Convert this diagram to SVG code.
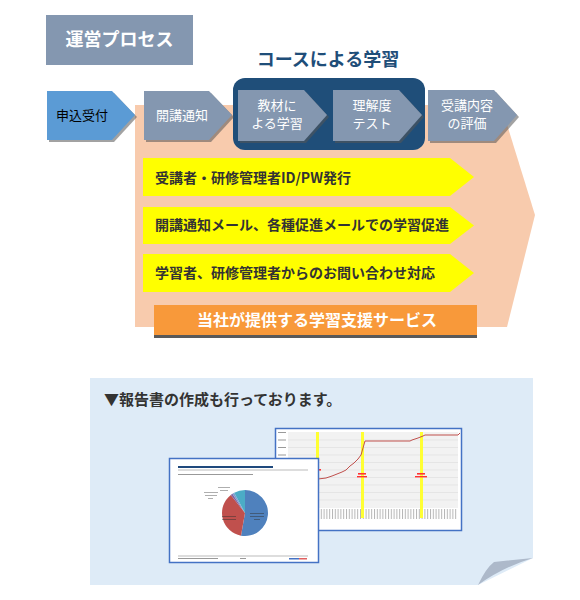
<svg xmlns="http://www.w3.org/2000/svg" width="580" height="600" viewBox="0 0 580 600">
<style>
text{font-family:"Noto Sans CJK JP","Noto Sans",sans-serif}
.chev{fill:#8497B0}
.shadow{fill:#555;opacity:.55}
.ct{font-size:13px;fill:#fff;text-anchor:middle}
.yl{fill:#FFFF00}
.yt{font-size:14px;font-weight:bold;fill:#333}
.tiny{fill:#9a9a9a}
.grid{stroke:#dcdcdc;stroke-width:.6}
.ybar{fill:#FFFF33}
</style>
<defs>
<pattern id="xl" x="290" y="509" width="2.8" height="12" patternUnits="userSpaceOnUse">
<rect x="0" y="0" width="1" height="10" fill="#b5b5b5"/>
</pattern>
</defs>
<rect width="580" height="600" fill="#fff"/>

<g id="title">
<rect x="46" y="15" width="147" height="50" fill="#8497B0"/>
<text x="119.5" y="46" font-size="18" font-weight="bold" fill="#fff" text-anchor="middle">運営プロセス</text>
</g>

<g id="course-label">
<text x="328" y="66" font-size="18" font-weight="bold" fill="#1F4E79" text-anchor="middle">コースによる学習</text>
</g>

<g id="support-area">
<polygon points="135,105 501,105 535,215 507,327 135,327" fill="#F8CBAD"/>
</g>

<g id="course-box">
<rect x="233" y="78" width="192" height="72" rx="12" fill="#1F4E79"/>
</g>

<g id="step1">
<path class="shadow" d="M49,93 H114 L137,117 L114,142 H49 Z"/>
<path d="M47,91 H112 L135,115 L112,140 H47 Z" fill="#5B9BD5"/>
<text class="ct" x="82" y="120" style="fill:#000">申込受付</text>
</g>
<g id="step2">
<path class="shadow" d="M146,93 H211 L234,117 L211,142 H146 Z"/>
<path class="chev" d="M144,91 H209 L232,115 L209,140 H144 Z"/>
<text class="ct" x="182" y="120">開講通知</text>
</g>
<g id="step3">
<path class="shadow" d="M240,92 H306 L329,117 L306,143 H240 Z"/>
<path class="chev" d="M238,90 H304 L327,115 L304,141 H238 Z"/>
<text class="ct" x="277" y="110">教材に</text>
<text class="ct" x="277" y="128">よる学習</text>
</g>
<g id="step4">
<path class="shadow" d="M335,92 H401 L424,117 L401,143 H335 Z"/>
<path class="chev" d="M333,90 H399 L422,115 L399,141 H333 Z"/>
<text class="ct" x="372" y="110">理解度</text>
<text class="ct" x="372" y="128">テスト</text>
</g>
<g id="step5">
<path class="shadow" d="M430,92 H496 L519,117 L496,143 H430 Z"/>
<path class="chev" d="M428,90 H494 L517,115 L494,141 H428 Z"/>
<text class="ct" x="467" y="110">受講内容</text>
<text class="ct" x="467" y="128">の評価</text>
</g>

<g id="service1">
<path class="yl" d="M143,158 H450 L474,177 L450,196 H143 Z"/>
<text class="yt" x="155" y="183">受講者・研修管理者ID/PW発行</text>
</g>
<g id="service2">
<path class="yl" d="M143,207 H450 L474,225.5 L450,244 H143 Z"/>
<text class="yt" x="155" y="230">開講通知メール、各種促進メールでの学習促進</text>
</g>
<g id="service3">
<path class="yl" d="M143,254 H450 L474,273 L450,292 H143 Z"/>
<text class="yt" x="155" y="278">学習者、研修管理者からのお問い合わせ対応</text>
</g>

<g id="service-label">
<rect x="154" y="334" width="323" height="4" fill="#595959"/>
<rect x="154" y="305" width="323" height="30" fill="#F8993A"/>
<text x="317" y="326" font-size="16" font-weight="bold" fill="#fff" text-anchor="middle">当社が提供する学習支援サービス</text>
</g>

<g id="report-panel">
<path d="M90,378 H533 V558 L478,585 H90 Z" fill="#DEEBF7"/>
<path d="M478,585 Q486,568 494,562 L533,558 Q503,567 478,585 Z" fill="#ADB9CA"/>
<text x="104" y="405" font-size="15" font-weight="bold" fill="#333">▼報告書の作成も行っております。</text>
</g>

<g id="chart-screenshot">
<rect x="275.5" y="428.5" width="186" height="102" fill="#fff" stroke="#4472C4" stroke-width="1.5"/>
<rect x="288" y="432" width="170" height="76" fill="#f2f2f2"/>
<g class="grid">
<line x1="288" y1="440" x2="458" y2="440"/><line x1="288" y1="447.5" x2="458" y2="447.5"/>
<line x1="288" y1="455" x2="458" y2="455"/><line x1="288" y1="462.5" x2="458" y2="462.5"/>
<line x1="288" y1="470" x2="458" y2="470"/><line x1="288" y1="477.5" x2="458" y2="477.5"/>
<line x1="288" y1="485" x2="458" y2="485"/><line x1="288" y1="492.5" x2="458" y2="492.5"/>
<line x1="288" y1="500" x2="458" y2="500"/>
</g>
<g class="tiny">
<rect x="278" y="432" width="8" height="1"/><rect x="278" y="439.5" width="8" height="1"/>
<rect x="278" y="447" width="8" height="1"/><rect x="278" y="454.5" width="8" height="1"/>
</g>
<rect x="290" y="509" width="168" height="12" fill="url(#xl)"/>
<rect class="ybar" x="316" y="432" width="3" height="86"/>
<rect class="ybar" x="361" y="432" width="3" height="86"/>
<rect class="ybar" x="420" y="432" width="3" height="86"/>
<polyline points="318,479 326,478 332,476 337,474 342,472 346,470 350,466 354,463 358,459 361,455 363,448 365,441 410,441 412,440 418,438 423,436 425,435 458,435 460,433" fill="none" stroke="#C0504D" stroke-width="1"/>
<rect x="358" y="473" width="8" height="1.6" fill="#f33"/><rect x="357" y="476" width="10" height="1.4" fill="#f33"/>
<rect x="417" y="473" width="8" height="1.6" fill="#f33"/><rect x="415" y="476" width="12" height="1.4" fill="#f33"/>
<rect x="317" y="469" width="4" height="1.6" fill="#f33"/>
</g>

<g id="pie-screenshot">
<rect x="169.5" y="458.5" width="149" height="104" fill="#fff" stroke="#4472C4" stroke-width="1.5"/>
<rect x="178" y="466" width="95" height="2" fill="#1F497D"/>
<line x1="178" y1="470" x2="308" y2="470" stroke="#bbb" stroke-width="1"/>
<rect x="178" y="474" width="75" height="1" fill="#999"/>
<path d="M245,513 L245,490 A23,23 0 1,1 241,535.65 Z" fill="#4F81BD"/>
<path d="M245,513 L241,535.65 A23,23 0 0,1 230.84,494.88 Z" fill="#C0504D"/>
<path d="M245,513 L230.84,494.88 A23,23 0 0,1 232.47,493.71 Z" fill="#8064A2"/>
<path d="M245,513 L232.47,493.71 A23,23 0 0,1 234.2,492.7 Z" fill="#7F9FD0"/>
<path d="M245,513 L234.2,492.7 A23,23 0 0,1 245,490 Z" fill="#4BACC6"/>
<g fill="#333" opacity=".6">
<rect x="250" y="513" width="14" height=".8"/><rect x="250" y="516" width="14" height=".8"/><rect x="254" y="519" width="6" height=".8"/>
<rect x="222" y="516" width="14" height=".8"/><rect x="222" y="519" width="14" height=".8"/>
</g>
<g class="tiny">
<rect x="218" y="487" width="12" height=".8"/><rect x="220" y="490" width="8" height=".8"/>
<rect x="204" y="492" width="14" height=".8"/><rect x="205" y="495" width="12" height=".8"/><rect x="208" y="498" width="5" height=".8"/>
</g>
<line x1="178" y1="556" x2="308" y2="556" stroke="#bbb" stroke-width="1"/>
<rect x="178" y="558" width="40" height="1" fill="#999"/>
<rect x="240" y="558" width="6" height="1" fill="#999"/>
<rect x="289" y="558" width="10" height="1.5" fill="#4472C4"/><rect x="299" y="558" width="8" height="1.5" fill="#E06060"/>
</g>
</svg>
